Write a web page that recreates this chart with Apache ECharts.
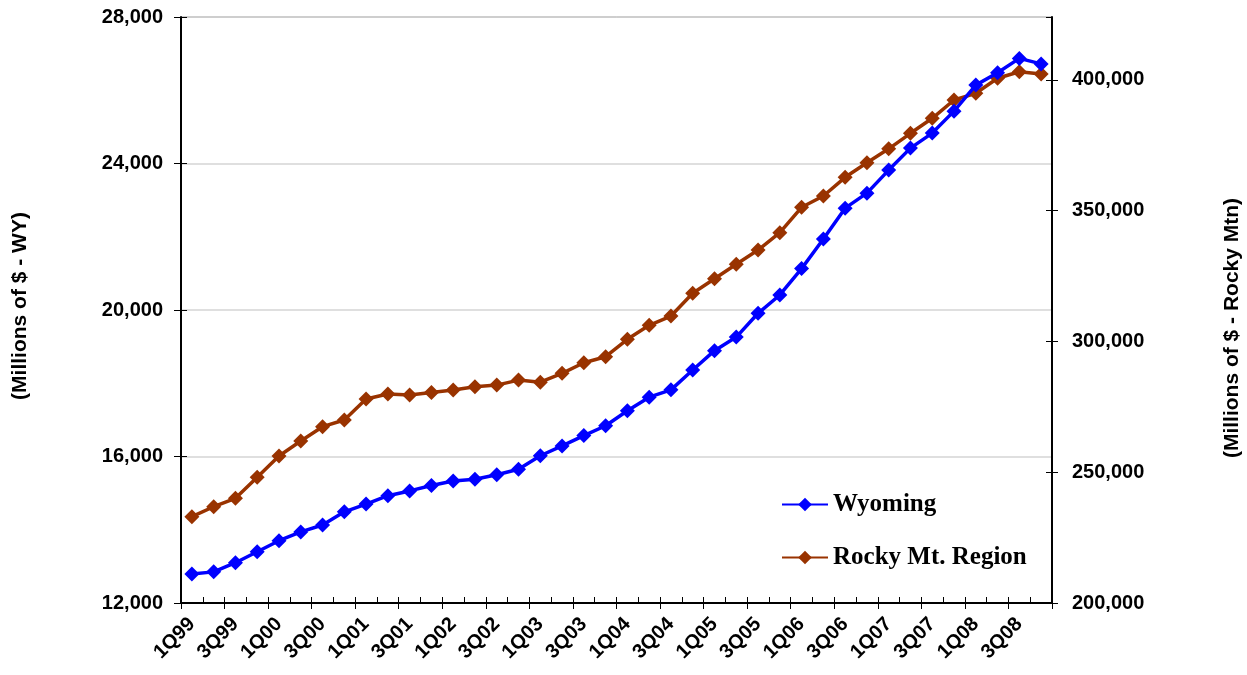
<!DOCTYPE html>
<html>
<head>
<meta charset="utf-8">
<script src="https://cdn.jsdelivr.net/npm/echarts@6/dist/echarts.min.js"></script>
<style>html,body{margin:0;padding:0;background:#fff}#c{width:1247px;height:675px}</style>
</head>
<body>
<div id="c"></div>
<script>
const categories = ['1Q99','2Q99','3Q99','4Q99','1Q00','2Q00','3Q00','4Q00','1Q01','2Q01','3Q01','4Q01','1Q02','2Q02','3Q02','4Q02','1Q03','2Q03','3Q03','4Q03','1Q04','2Q04','3Q04','4Q04','1Q05','2Q05','3Q05','4Q05','1Q06','2Q06','3Q06','4Q06','1Q07','2Q07','3Q07','4Q07','1Q08','2Q08','3Q08','4Q08'];
const wyoming = [12790,12850,13100,13400,13700,13940,14130,14490,14700,14930,15060,15210,15330,15380,15500,15650,16020,16290,16570,16840,17250,17620,17820,18360,18890,19260,19910,20410,21130,21940,22780,23190,23820,24420,24830,25430,26140,26480,26870,26720];
const rockyMt = [233000,236800,240000,248050,256200,261900,267400,269950,277980,279900,279500,280500,281400,282700,283300,285200,284400,287800,291850,294150,300800,306150,309700,318400,323960,329470,334930,341550,351260,355580,362720,368300,373600,379540,385280,392270,394830,400570,403090,402210];
const leftTicks = {min: 12000, max: 28000, interval: 4000};
const rightTicks = {min: 200000, max: 424000, interval: 50000};
const seriesNames = ['Wyoming', 'Rocky Mt. Region'];
const leftTitle = '(Millions of $ - WY)';
const rightTitle = '(Millions of $ - Rocky Mtn)';

const fmt = v => v.toLocaleString('en-US');
const FONT = 'Liberation Sans, Arial, sans-serif';
const chart = echarts.init(document.getElementById('c'));
const lblStyle = {fontFamily: FONT, fontWeight: 'bold', fontSize: 20, color: '#000'};
chart.setOption({
  animation: false,
  grid: {left: 181, right: 195, top: 17, bottom: 72, show: true, borderColor: '#7f7f7f', borderWidth: 1},
  xAxis: [{
    type: 'category', data: categories, boundaryGap: true, position: 'bottom',
    axisLine: {lineStyle: {color: '#000', width: 2}},
    axisTick: {show: true, interval: 0, inside: true, length: 6, lineStyle: {color: '#000', width: 1}},
    axisLabel: Object.assign({interval: 1, rotate: 45, margin: 18}, lblStyle),
    splitLine: {show: false}
  }, {
    type: 'category', data: categories, boundaryGap: true, position: 'bottom', gridIndex: 0,
    axisLine: {show: false},
    axisTick: {show: true, interval: 1, inside: false, length: 6, lineStyle: {color: '#000', width: 1}},
    axisLabel: {show: false}, splitLine: {show: false}
  }],
  yAxis: [{
    type: 'value', position: 'left', min: leftTicks.min, max: leftTicks.max, interval: leftTicks.interval,
    axisLine: {show: true, lineStyle: {color: '#000', width: 2}},
    axisTick: {show: true, length: 7, lineStyle: {color: '#000'}},
    axisLabel: Object.assign({margin: 18, formatter: fmt}, lblStyle),
    splitLine: {show: true, lineStyle: {color: '#d4d4d4', width: 1.5}}
  }, {
    type: 'value', position: 'right', min: rightTicks.min, max: rightTicks.max, interval: rightTicks.interval,
    axisLine: {show: true, lineStyle: {color: '#000', width: 2}},
    axisTick: {show: true, length: 6, lineStyle: {color: '#000'}},
    axisLabel: Object.assign({margin: 20, formatter: fmt, showMaxLabel: false}, lblStyle),
    splitLine: {show: false}
  }, {
    type: 'value', position: 'left', min: leftTicks.min, max: leftTicks.max, interval: leftTicks.interval,
    axisLine: {show: false}, axisTick: {show: true, inside: true, length: 6, lineStyle: {color: '#000'}},
    axisLabel: {show: false}, splitLine: {show: false}
  }, {
    type: 'value', position: 'right', min: rightTicks.min, max: rightTicks.max, interval: rightTicks.interval,
    axisLine: {show: false}, axisTick: {show: true, inside: true, length: 6, lineStyle: {color: '#000'}},
    axisLabel: {show: false}, splitLine: {show: false}
  }],
  legend: {
    orient: 'vertical', left: 776, top: 487, itemWidth: 46, itemHeight: 17, itemGap: 28,
    textStyle: {fontFamily: 'Liberation Serif, Times New Roman, serif', fontWeight: 'bold', fontSize: 25, color: '#000'},
    data: seriesNames
  },
  series: [{
    name: seriesNames[0], type: 'line', xAxisIndex: 0, yAxisIndex: 0, data: wyoming,
    symbol: 'diamond', symbolSize: 15, showAllSymbol: true, itemStyle: {color: '#0000ff'},
    lineStyle: {color: '#0000ff', width: 3.5}, z: 3
  }, {
    name: seriesNames[1], type: 'line', xAxisIndex: 0, yAxisIndex: 1, data: rockyMt,
    symbol: 'diamond', symbolSize: 15, showAllSymbol: true, itemStyle: {color: '#993300'},
    lineStyle: {color: '#993300', width: 3.5}, z: 2
  }],
  graphic: [{
    type: 'text', x: 20, y: 306, rotation: Math.PI / 2,
    style: {text: leftTitle, fontFamily: FONT, fontWeight: 'bold', fontSize: 21, fill: '#000', align: 'center', verticalAlign: 'middle'}
  }, {
    type: 'text', x: 1232, y: 328, rotation: Math.PI / 2,
    style: {text: rightTitle, fontFamily: FONT, fontWeight: 'bold', fontSize: 21, fill: '#000', align: 'center', verticalAlign: 'middle'}
  }]
});
</script>
</body>
</html>
